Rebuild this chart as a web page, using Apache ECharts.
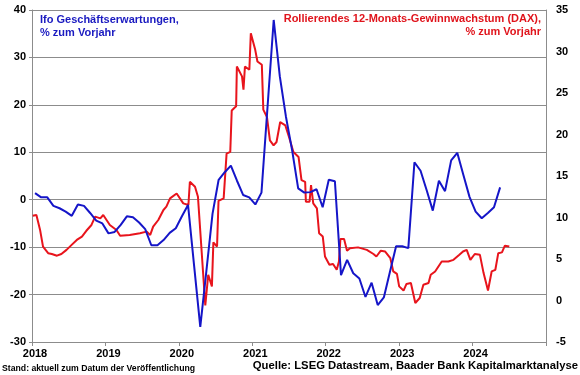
<!DOCTYPE html>
<html>
<head>
    <meta charset="utf-8">
    <script type="text/javascript" src="https://cdn.jsdelivr.net/npm/echarts@6/dist/echarts.min.js"></script>
    <title>ifo vs DAX Gewinnwachstum</title>
    <style>
        html, body { margin: 0; padding: 0; background: #fff; }
    </style>
</head>
<body>
    <div id="container" style="width:580px;height:375px;"></div>
    <script type="text/javascript">
    // ifo Geschäftserwartungen, % zum Vorjahr (monatlich ab Jan 2018, Monatsmitte)
    var ifoStartYear = 2018;
    var ifoValues = [
        1.4, 0.5, 0.5, -1.3, -1.8, -2.5, -3.4, -1.0, -1.3, -2.8, -4.4, -5.0,
        -7.1, -6.8, -5.3, -3.5, -3.7, -4.8, -6.2, -9.6, -9.6, -8.5, -7.0, -6.0,
        -3.5, -1.1, -14.0, -26.8, -15.0, -3.0, 4.2, 5.8, 7.2, 4.0, 1.0, 0.5,
        -1.0, 1.5, 19.7, 37.9, 26.0, 17.5, 10.5, 2.4, 1.5, 1.6, 2.2, -1.6,
        4.2, 3.9, -15.9, -12.7, -15.5, -16.6, -20.5, -17.5, -22.2, -20.6, -15.2, -9.8,
        -9.8, -10.2, 7.9, 6.1, 2.0, -2.3, 4.0, 1.8, 8.3, 9.9, 5.2, 0.6,
        -2.5, -3.9, -2.8, -1.6, 2.6
    ];

    // Rollierendes 12-Monats-Gewinnwachstum (DAX), % zum Vorjahr
    var daxDates = [
        2018.01, 2018.06, 2018.11, 2018.15, 2018.22, 2018.27, 2018.34, 2018.40, 2018.47, 2018.54,
        2018.61, 2018.68, 2018.74, 2018.81, 2018.86, 2018.93, 2018.97, 2019.06, 2019.15, 2019.20,
        2019.33, 2019.47, 2019.56, 2019.61, 2019.65, 2019.72, 2019.79, 2019.83, 2019.88, 2019.97,
        2020.06, 2020.13, 2020.15, 2020.22, 2020.26, 2020.36, 2020.40, 2020.45, 2020.47, 2020.52,
        2020.54, 2020.61, 2020.65, 2020.70, 2020.72, 2020.78, 2020.79, 2020.86, 2020.88, 2020.90,
        2020.96, 2020.98, 2021.04, 2021.07, 2021.13, 2021.15, 2021.20, 2021.24, 2021.29, 2021.33,
        2021.38, 2021.45, 2021.50, 2021.56, 2021.63, 2021.67, 2021.72, 2021.73, 2021.78, 2021.80,
        2021.83, 2021.88, 2021.91, 2021.96, 2021.99, 2022.05, 2022.10, 2022.15, 2022.18, 2022.20,
        2022.25, 2022.29, 2022.33, 2022.44, 2022.56, 2022.65, 2022.69, 2022.75, 2022.81, 2022.88,
        2022.92, 2022.97, 2023.00, 2023.06, 2023.10, 2023.16, 2023.22, 2023.28, 2023.33, 2023.40,
        2023.43, 2023.49, 2023.58, 2023.67, 2023.74, 2023.82, 2023.87, 2023.92, 2023.97, 2024.03,
        2024.10, 2024.15, 2024.21, 2024.26, 2024.31, 2024.35, 2024.40, 2024.44, 2024.50
    ];
    var daxValues = [
        10.2, 10.3, 8.5, 6.5, 5.7, 5.6, 5.4, 5.6, 6.1, 6.7,
        7.3, 7.7, 8.4, 9.1, 10.1, 9.9, 10.3, 9.1, 8.5, 7.8,
        7.9, 8.1, 8.3, 7.9, 8.9, 9.7, 10.9, 11.3, 12.3, 12.9,
        11.7, 11.5, 14.3, 13.7, 12.5, -0.6, 3.1, 1.7, 7.0, 6.5,
        12.0, 12.3, 17.7, 17.9, 22.9, 23.4, 28.2, 27.0, 25.4, 28.2,
        27.8, 32.2, 30.2, 28.8, 28.4, 23.0, 22.1, 19.3, 18.7, 19.1,
        21.5, 21.1, 19.7, 17.9, 17.3, 14.5, 14.3, 11.9, 11.9, 13.9,
        11.7, 11.1, 8.1, 7.7, 5.3, 4.3, 4.4, 3.7, 4.7, 7.4,
        7.4, 6.0, 6.3, 6.4, 6.1, 5.6, 5.3, 6.0, 5.9, 5.1,
        3.5, 3.2, 1.7, 1.2, 2.0, 2.1, -0.3, 0.3, 1.9, 2.1,
        3.1, 3.5, 4.7, 4.7, 4.9, 5.5, 5.9, 6.1, 4.9, 5.6,
        5.5, 3.3, 1.2, 3.5, 3.7, 5.7, 5.8, 6.6, 6.5
    ];

    // Achsen
    var xMin = 2018, xMax = 2025;
    var leftTicks = { min: -30, max: 40, step: 10 };
    var rightTicks = { min: -5, max: 35, step: 5 };

    var ifoData = ifoValues.map(function (v, i) {
        return [ifoStartYear + (i + 0.5) / 12, v];
    });
    var daxData = daxDates.map(function (t, i) {
        return [t, daxValues[i]];
    });

    var font = "'Liberation Sans', Arial, sans-serif";
    var gray = '#8c8c8c';

    var myChart = echarts.init(document.getElementById('container'));

    var option = {
        animation: false,
        backgroundColor: '#fff',
        grid: { left: 32, right: 34, top: 10, bottom: 33 },
        xAxis: {
            type: 'value',
            min: xMin,
            max: xMax,
            interval: 1,
            axisLine: { show: true, onZero: false, lineStyle: { color: gray, width: 1 } },
            axisTick: { show: true, length: 4, lineStyle: { color: gray } },
            splitLine: { show: false },
            axisLabel: {
                color: '#000',
                fontFamily: font,
                fontWeight: 'bold',
                fontSize: 11,
                margin: 6,
                padding: [0, 0, 0, 6],
                formatter: function (v) { return v < xMax ? String(v) : ''; }
            }
        },
        yAxis: [{
            type: 'value',
            min: leftTicks.min,
            max: leftTicks.max,
            interval: leftTicks.step,
            axisLine: { show: true, lineStyle: { color: gray } },
            axisTick: { show: true, length: 3, lineStyle: { color: gray } },
            splitLine: { show: true, lineStyle: { color: gray, width: 1 } },
            axisLabel: {
                color: '#000', fontFamily: font, fontWeight: 'bold', fontSize: 11, margin: 6
            }
        }, {
            type: 'value',
            position: 'right',
            min: rightTicks.min,
            max: rightTicks.max,
            interval: rightTicks.step,
            axisLine: { show: true, lineStyle: { color: gray } },
            axisTick: { show: false },
            splitLine: { show: false },
            axisLabel: {
                color: '#000', fontFamily: font, fontWeight: 'bold', fontSize: 11, margin: 10
            }
        }],
        series: [{
            name: 'DAX Gewinnwachstum',
            type: 'line',
            yAxisIndex: 1,
            data: daxData,
            showSymbol: false,
            lineStyle: { color: '#e8141c', width: 2 },
            z: 2
        }, {
            name: 'ifo Geschäftserwartungen',
            type: 'line',
            yAxisIndex: 0,
            data: ifoData,
            showSymbol: false,
            lineStyle: { color: '#1515c8', width: 2 },
            z: 3
        }],
        graphic: [{
            type: 'text',
            left: 40,
            top: 13,
            style: {
                text: 'Ifo Geschäftserwartungen,\n% zum Vorjahr',
                fill: '#1a1ac0',
                font: 'bold 11px ' + font,
                lineHeight: 13
            }
        }, {
            type: 'text',
            right: 39,
            top: 13,
            style: {
                text: 'Rollierendes 12-Monats-Gewinnwachstum (DAX),',
                fill: '#e0141c',
                font: 'bold 11px ' + font
            }
        }, {
            type: 'text',
            right: 39,
            top: 26,
            style: {
                text: '% zum Vorjahr',
                fill: '#e0141c',
                font: 'bold 11px ' + font
            }
        }, {
            type: 'text',
            left: 2,
            top: 364,
            style: {
                text: 'Stand: aktuell zum Datum der Veröffentlichung',
                fill: '#000',
                font: 'bold 8.7px ' + font
            }
        }, {
            type: 'text',
            right: 2,
            top: 360,
            style: {
                text: 'Quelle: LSEG Datastream, Baader Bank Kapitalmarktanalyse',
                fill: '#000',
                font: 'bold 11.3px ' + font
            }
        }]
    };

    myChart.setOption(option);
    </script>
</body>
</html>
